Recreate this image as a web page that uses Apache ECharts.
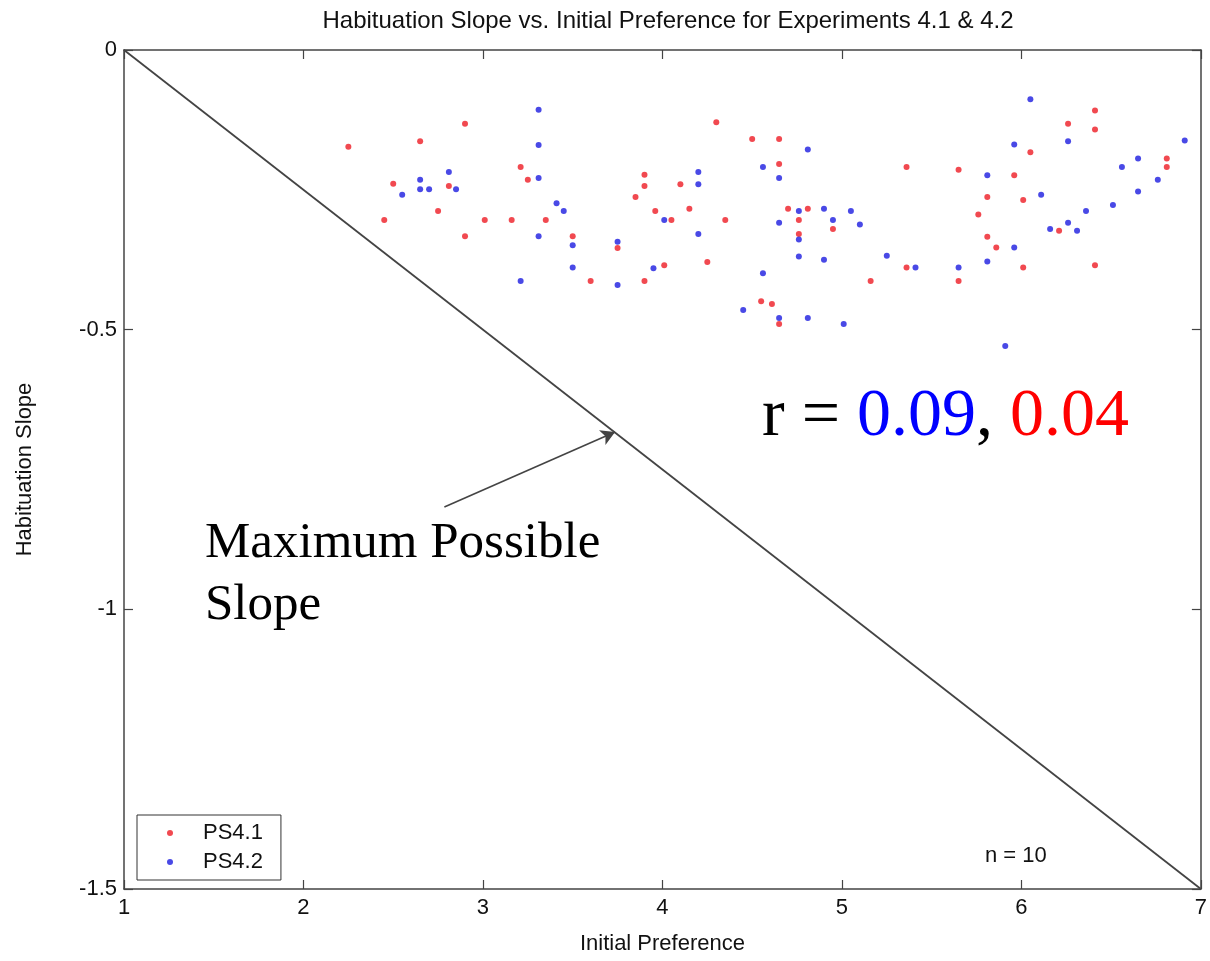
<!DOCTYPE html>
<html>
<head>
<meta charset="utf-8">
<script src="https://cdn.jsdelivr.net/npm/echarts@6/dist/echarts.min.js"></script>
<style>
html,body{margin:0;padding:0;background:#fff;}
#chart{width:1210px;height:961px;}
</style>
</head>
<body>
<div id="chart"></div>
<script>
// ---- data ----
const titleText = 'Habituation Slope vs. Initial Preference for Experiments 4.1 & 4.2';
const xAxisName = 'Initial Preference';
const yAxisName = 'Habituation Slope';
const seriesNames = ['PS4.1', 'PS4.2'];

const ps41X = [2.25,2.65,2.50,2.45,2.90,3.21,3.25,2.81,2.75,3.01,3.16,3.35,2.90,3.50,3.60,3.75,3.90,4.01,3.90,3.90,3.85,3.96,4.05,4.10,4.15,4.30,4.50,4.65,4.65,5.36,4.35,4.25,4.70,4.81,4.76,4.95,4.76,5.36,5.16,4.55,4.61,4.65,6.41,6.26,6.41,6.05,6.81,6.81,5.65,5.96,5.81,6.01,5.76,6.21,5.81,5.86,6.01,6.41,5.65];
const ps41Y = [-0.173,-0.163,-0.239,-0.304,-0.132,-0.209,-0.232,-0.243,-0.288,-0.304,-0.304,-0.304,-0.333,-0.333,-0.413,-0.354,-0.413,-0.385,-0.223,-0.243,-0.263,-0.288,-0.304,-0.240,-0.284,-0.129,-0.159,-0.159,-0.204,-0.209,-0.304,-0.379,-0.284,-0.284,-0.304,-0.320,-0.329,-0.389,-0.413,-0.449,-0.454,-0.490,-0.108,-0.132,-0.142,-0.183,-0.194,-0.209,-0.214,-0.224,-0.263,-0.268,-0.294,-0.323,-0.334,-0.353,-0.389,-0.385,-0.413];

const ps42X = [2.55,3.31,3.31,3.31,2.81,2.65,2.65,2.70,2.85,3.41,3.45,3.31,3.50,3.50,3.21,3.75,3.75,3.95,4.01,4.20,4.20,4.20,4.81,4.56,4.65,4.76,4.90,5.05,4.65,4.95,5.10,4.76,4.76,4.90,5.25,5.41,4.56,4.45,4.65,4.81,5.01,6.05,6.91,6.26,5.96,6.65,6.56,5.81,6.76,6.65,6.11,6.51,6.36,6.26,6.16,6.31,5.96,5.81,5.65,5.91];
const ps42Y = [-0.259,-0.107,-0.170,-0.229,-0.218,-0.232,-0.249,-0.249,-0.249,-0.274,-0.288,-0.333,-0.349,-0.389,-0.413,-0.343,-0.420,-0.390,-0.304,-0.218,-0.240,-0.329,-0.178,-0.209,-0.229,-0.288,-0.284,-0.288,-0.309,-0.304,-0.312,-0.339,-0.369,-0.375,-0.368,-0.389,-0.399,-0.465,-0.479,-0.479,-0.490,-0.088,-0.162,-0.163,-0.169,-0.194,-0.209,-0.224,-0.232,-0.253,-0.259,-0.277,-0.288,-0.309,-0.320,-0.323,-0.353,-0.378,-0.389,-0.529];

// maximum possible slope line and its arrow
const diagX = [1, 7];
const diagY = [0, -1.5];
const arrowFrom = [2.785, -0.817];
const arrowTo = [3.736, -0.683];

// axis ticks
const xMin = 1, xMax = 7, xStep = 1;
const yMin = -1.5, yMax = 0, yStep = 0.5;

const rValues = ['0.09', '0.04'];
const nText = 'n = 10';

// ---- chart ----
const zip = (xs, ys) => xs.map((x, i) => [x, ys[i]]);
const sans = '"Liberation Sans", Arial, Helvetica, sans-serif';
const serif = '"Liberation Serif", "Times New Roman", serif';
const axisColor = '#444';

const chart = echarts.init(document.getElementById('chart'), null, {renderer: 'canvas'});

const xAxisBase = {
  type: 'value', min: xMin, max: xMax, interval: xStep,
  axisLine: {show: true, onZero: false, lineStyle: {color: axisColor, width: 1.5}},
  axisTick: {show: true, inside: true, length: 9, lineStyle: {color: axisColor, width: 1.2}},
  splitLine: {show: false}
};
const yAxisBase = {
  type: 'value', min: yMin, max: yMax, interval: yStep,
  axisLine: {show: true, onZero: false, lineStyle: {color: axisColor, width: 1.5}},
  axisTick: {show: true, inside: true, length: 9, lineStyle: {color: axisColor, width: 1.2}},
  splitLine: {show: false}
};

chart.setOption({
  animation: false,
  backgroundColor: '#ffffff',
  title: {
    text: titleText,
    left: 663, top: 4, textAlign: 'center',
    textStyle: {fontFamily: sans, fontSize: 24, fontWeight: 'normal', color: '#111'}
  },
  grid: {left: 124, right: 7, top: 50, bottom: 72, containLabel: false},
  legend: {
    orient: 'vertical', left: 137, top: 815,
    data: seriesNames,
    icon: 'circle', itemWidth: 6, itemHeight: 6, itemGap: 5,
    padding: [6, 18, 6, 30],
    borderColor: '#333', borderWidth: 1, backgroundColor: '#fff',
    textStyle: {fontFamily: sans, fontSize: 22, color: '#111', lineHeight: 24, padding: [0, 0, 0, 25]}
  },
  xAxis: [
    Object.assign({}, xAxisBase, {
      position: 'bottom',
      name: xAxisName, nameLocation: 'middle', nameGap: 44,
      nameTextStyle: {fontFamily: sans, fontSize: 22, color: '#111'},
      axisLabel: {show: true, margin: 8, fontFamily: sans, fontSize: 22, color: '#111'}
    }),
    Object.assign({}, xAxisBase, {position: 'top', axisLabel: {show: false}})
  ],
  yAxis: [
    Object.assign({}, yAxisBase, {
      position: 'left',
      name: yAxisName, nameLocation: 'middle', nameGap: 88, nameRotate: 90,
      nameTextStyle: {fontFamily: sans, fontSize: 22, color: '#111'},
      axisLabel: {show: true, margin: 7, fontFamily: sans, fontSize: 22, color: '#111'}
    }),
    Object.assign({}, yAxisBase, {position: 'right', axisLabel: {show: false}})
  ],
  series: [
    {
      name: seriesNames[0], type: 'scatter',
      data: zip(ps41X, ps41Y),
      symbol: 'circle', symbolSize: 6,
      itemStyle: {color: '#ee1c24'}
    },
    {
      name: seriesNames[1], type: 'scatter',
      data: zip(ps42X, ps42Y),
      symbol: 'circle', symbolSize: 6,
      itemStyle: {color: '#1c1ce0'}
    },
    {
      name: 'Maximum Possible Slope', type: 'line',
      data: zip(diagX, diagY),
      showSymbol: false, symbol: 'none',
      lineStyle: {color: '#444', width: 1.8},
      silent: true,
      markLine: {
        silent: true,
        symbol: ['none', 'arrow'], symbolSize: [12, 14],
        label: {show: false},
        lineStyle: {color: '#444', width: 1.6, type: 'solid'},
        data: [[{coord: arrowFrom}, {coord: arrowTo}]]
      }
    }
  ],
  graphic: [
    {
      type: 'text', left: 762, top: 383, z: 100,
      style: {
        text: '{k|r = }{b|' + rValues[0] + '}{k|, }{r|' + rValues[1] + '}',
        font: '68px ' + serif,
        rich: {
          k: {fontFamily: serif, fontSize: 68, fill: '#000', lineHeight: 68},
          b: {fontFamily: serif, fontSize: 68, fill: '#0000ff', lineHeight: 68},
          r: {fontFamily: serif, fontSize: 68, fill: '#ff0000', lineHeight: 68}
        }
      }
    },
    {
      type: 'text', left: 205, top: 518, z: 100,
      style: {text: 'Maximum Possible', font: '51px ' + serif, fill: '#000'}
    },
    {
      type: 'text', left: 205, top: 580, z: 100,
      style: {text: 'Slope', font: '51px ' + serif, fill: '#000'}
    },
    {
      type: 'text', left: 985, top: 845, z: 100,
      style: {text: nText, font: '22px ' + sans, fill: '#111'}
    }
  ]
});
</script>
</body>
</html>
